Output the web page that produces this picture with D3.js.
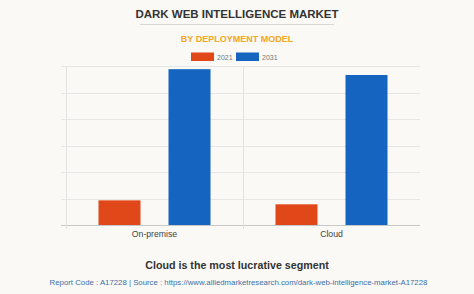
<!DOCTYPE html>
<html>
<head>
<meta charset="utf-8">
<script src="https://cdn.jsdelivr.net/npm/d3@7"></script>
<style>
  html, body { margin: 0; padding: 0; background: #faf9f5; }
  svg { display: block; font-family: Arial, "Liberation Sans", sans-serif; }
</style>
</head>
<body>
<svg id="chart" width="474" height="294"></svg>
<script>
// data (relative units, no axis labels in the source)
const categories = ['On-premise', 'Cloud'];
const years = ['2021', '2031'];
const values2021 = [0.93, 0.78];
const values2031 = [5.88, 5.66];
const yTicks = [0, 1, 2, 3, 4, 5, 6];
const colors = ['#e0481a', '#1565c0'];

const svg = d3.select('#chart');
const W = 474, H = 294;

svg.append('rect').attr('width', W).attr('height', H).attr('fill', '#faf9f5');

// Titles
svg.append('text')
    .attr('x', 237).attr('y', 18)
    .attr('text-anchor', 'middle')
    .style('font-size', '11.5px').style('font-weight', 'bold')
    .style('fill', '#333')
    .text('DARK WEB INTELLIGENCE MARKET');

svg.append('line')
    .attr('x1', 140).attr('x2', 334)
    .attr('y1', 24.5).attr('y2', 24.5)
    .attr('stroke', '#d8d8d8').attr('stroke-width', 1);

svg.append('text')
    .attr('x', 237).attr('y', 41.5)
    .attr('text-anchor', 'middle')
    .style('font-size', '9px').style('font-weight', 'bold')
    .style('fill', '#f5a623')
    .text('BY DEPLOYMENT MODEL');

// Legend
const legend = svg.append('g').attr('class', 'legend');
const legendX = [191, 236];
years.forEach((y, i) => {
    legend.append('rect')
        .attr('x', legendX[i]).attr('y', 52.5)
        .attr('width', 23).attr('height', 8.5)
        .attr('fill', colors[i]);
    legend.append('text')
        .attr('x', legendX[i] + 26).attr('y', 59.5)
        .style('font-size', '7px').style('fill', '#777')
        .text(y);
});

// Plot area
const margin = {left: 66, right: 420, top: 66, bottom: 225};

const x0 = d3.scaleBand()
    .domain(categories)
    .range([margin.left, margin.right])
    .padding(0);

const x1 = d3.scaleBand()
    .domain(years)
    .range([0, x0.bandwidth()])
    .paddingInner(0.4)
    .paddingOuter(0.464);

const y = d3.scaleLinear()
    .domain([0, 6])
    .range([margin.bottom, margin.top]);

// gridlines
svg.append('g')
    .selectAll('line')
    .data(yTicks)
    .enter().append('line')
    .attr('x1', margin.left - 5).attr('x2', margin.right)
    .attr('y1', d => Math.round(y(d)) + 0.5).attr('y2', d => Math.round(y(d)) + 0.5)
    .attr('stroke', d => d === 0 ? '#c8c8c8' : '#e6e6e6')
    .attr('stroke-width', 1);

// vertical category dividers / ticks
const dividers = [margin.left, x0(categories[1])];
svg.append('g')
    .selectAll('line')
    .data(dividers)
    .enter().append('line')
    .attr('x1', d => Math.round(d) + 0.5).attr('x2', d => Math.round(d) + 0.5)
    .attr('y1', margin.top).attr('y2', margin.bottom + 4)
    .attr('stroke', '#e2e2e2').attr('stroke-width', 1);

// bars
const rows = categories.map((c, i) => ({cat: c, vals: [values2021[i], values2031[i]]}));
const groups = svg.append('g')
    .selectAll('g')
    .data(rows)
    .enter().append('g')
    .attr('transform', d => `translate(${x0(d.cat)},0)`);

groups.selectAll('rect')
    .data(d => d.vals.map((v, i) => ({year: years[i], v: v, i: i})))
    .enter().append('rect')
    .attr('x', d => x1(d.year))
    .attr('y', d => y(d.v))
    .attr('width', x1.bandwidth())
    .attr('height', d => y(0) - y(d.v))
    .attr('fill', d => colors[d.i]);

// category labels
svg.append('g')
    .selectAll('text')
    .data(categories)
    .enter().append('text')
    .attr('x', d => x0(d) + x0.bandwidth() / 2)
    .attr('y', 237)
    .attr('text-anchor', 'middle')
    .style('font-size', '8.7px').style('fill', '#444')
    .text(d => d);

// footer
svg.append('text')
    .attr('x', 237).attr('y', 268.5)
    .attr('text-anchor', 'middle')
    .style('font-size', '10.7px').style('font-weight', 'bold')
    .style('fill', '#333')
    .text('Cloud is the most lucrative segment');

svg.append('text')
    .attr('x', 238.5).attr('y', 285)
    .attr('text-anchor', 'middle')
    .style('font-size', '7.8px')
    .style('fill', '#3d6fa8')
    .text('Report Code : A17228  |  Source : https://www.alliedmarketresearch.com/dark-web-intelligence-market-A17228');
</script>
</body>
</html>
